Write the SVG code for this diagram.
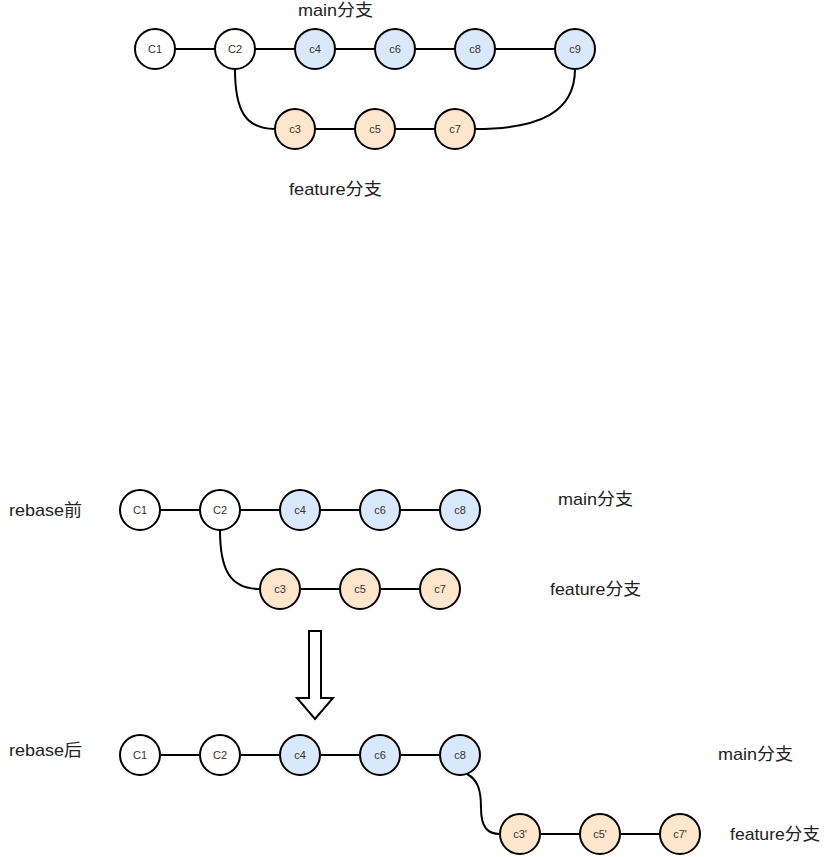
<svg xmlns="http://www.w3.org/2000/svg" width="831" height="857" viewBox="0 0 831 857">
<style>
.n{stroke:#000;stroke-width:2}
.w{fill:#fff}.b{fill:#dae8fc}.o{fill:#ffe6cc}
.t{font-family:"Liberation Sans","Noto Sans CJK SC",sans-serif;font-size:11px;fill:#333;text-anchor:middle}
.l{font-family:"Liberation Sans","Noto Sans CJK SC",sans-serif;font-size:17px;fill:#222}
.c{fill:none;stroke:#000;stroke-width:2}
</style>
<rect width="831" height="857" fill="#fff"/>
<g id="connectors">
<path class="c" d="M175,49H215M255,49H295M335,49H375M415,49H455M495,49H555"/>
<path class="c" d="M235,69C235,110 245,129 275,129"/>
<path class="c" d="M315,129H355M395,129H435"/>
<path class="c" d="M475,129C540,129 575,112 575,69"/>
<path class="c" d="M160,510H200M240,510H280M320,510H360M400,510H440"/>
<path class="c" d="M220,530C220,570 230,589 260,589"/>
<path class="c" d="M300,589H340M380,589H420"/>
<path class="c" d="M160,755H200M240,755H280M320,755H360M400,755H440"/>
<path class="c" d="M467,774C478,780 481,790 481,808C481,828 488,834 500,834"/>
<path class="c" d="M540,834H580M620,834H660"/>
</g>
<g id="arrow"><path d="M309,631H321V698H333L315,719L297,698H309Z" fill="#fff" stroke="#000" stroke-width="2"/></g>
<g id="top-C1"><circle class="n w" cx="155" cy="49" r="20"/><text class="t" x="155" y="53">C1</text></g>
<g id="top-C2"><circle class="n w" cx="235" cy="49" r="20"/><text class="t" x="235" y="53">C2</text></g>
<g id="top-c4"><circle class="n b" cx="315" cy="49" r="20"/><text class="t" x="315" y="53">c4</text></g>
<g id="top-c6"><circle class="n b" cx="395" cy="49" r="20"/><text class="t" x="395" y="53">c6</text></g>
<g id="top-c8"><circle class="n b" cx="475" cy="49" r="20"/><text class="t" x="475" y="53">c8</text></g>
<g id="top-c9"><circle class="n b" cx="575" cy="49" r="20"/><text class="t" x="575" y="53">c9</text></g>
<g id="top-c3"><circle class="n o" cx="295" cy="129" r="20"/><text class="t" x="295" y="133">c3</text></g>
<g id="top-c5"><circle class="n o" cx="375" cy="129" r="20"/><text class="t" x="375" y="133">c5</text></g>
<g id="top-c7"><circle class="n o" cx="455" cy="129" r="20"/><text class="t" x="455" y="133">c7</text></g>
<g id="lbl-top-main"><text class="l" x="298" y="16" textLength="75" lengthAdjust="spacingAndGlyphs">main分支</text></g>
<g id="lbl-top-feature"><text class="l" x="289" y="195" textLength="93" lengthAdjust="spacingAndGlyphs">feature分支</text></g>
<g id="b1-C1"><circle class="n w" cx="140" cy="510" r="20"/><text class="t" x="140" y="514">C1</text></g>
<g id="b1-C2"><circle class="n w" cx="220" cy="510" r="20"/><text class="t" x="220" y="514">C2</text></g>
<g id="b1-c4"><circle class="n b" cx="300" cy="510" r="20"/><text class="t" x="300" y="514">c4</text></g>
<g id="b1-c6"><circle class="n b" cx="380" cy="510" r="20"/><text class="t" x="380" y="514">c6</text></g>
<g id="b1-c8"><circle class="n b" cx="460" cy="510" r="20"/><text class="t" x="460" y="514">c8</text></g>
<g id="b1-c3"><circle class="n o" cx="280" cy="589" r="20"/><text class="t" x="280" y="593">c3</text></g>
<g id="b1-c5"><circle class="n o" cx="360" cy="589" r="20"/><text class="t" x="360" y="593">c5</text></g>
<g id="b1-c7"><circle class="n o" cx="440" cy="589" r="20"/><text class="t" x="440" y="593">c7</text></g>
<g id="lbl-before"><text class="l" x="9" y="516" textLength="73" lengthAdjust="spacingAndGlyphs">rebase前</text></g>
<g id="lbl-b1-main"><text class="l" x="558" y="505" textLength="75" lengthAdjust="spacingAndGlyphs">main分支</text></g>
<g id="lbl-b1-feature"><text class="l" x="550" y="595" textLength="91" lengthAdjust="spacingAndGlyphs">feature分支</text></g>
<g id="b2-C1"><circle class="n w" cx="140" cy="755" r="20"/><text class="t" x="140" y="759">C1</text></g>
<g id="b2-C2"><circle class="n w" cx="220" cy="755" r="20"/><text class="t" x="220" y="759">C2</text></g>
<g id="b2-c4"><circle class="n b" cx="300" cy="755" r="20"/><text class="t" x="300" y="759">c4</text></g>
<g id="b2-c6"><circle class="n b" cx="380" cy="755" r="20"/><text class="t" x="380" y="759">c6</text></g>
<g id="b2-c8"><circle class="n b" cx="460" cy="755" r="20"/><text class="t" x="460" y="759">c8</text></g>
<g id="b2-c3p"><circle class="n o" cx="520" cy="834" r="20"/><text class="t" x="520" y="838">c3'</text></g>
<g id="b2-c5p"><circle class="n o" cx="600" cy="834" r="20"/><text class="t" x="600" y="838">c5'</text></g>
<g id="b2-c7p"><circle class="n o" cx="680" cy="834" r="20"/><text class="t" x="680" y="838">c7'</text></g>
<g id="lbl-after"><text class="l" x="9" y="756" textLength="73" lengthAdjust="spacingAndGlyphs">rebase后</text></g>
<g id="lbl-b2-main"><text class="l" x="718" y="760" textLength="75" lengthAdjust="spacingAndGlyphs">main分支</text></g>
<g id="lbl-b2-feature"><text class="l" x="730" y="840" textLength="90" lengthAdjust="spacingAndGlyphs">feature分支</text></g>
</svg>
